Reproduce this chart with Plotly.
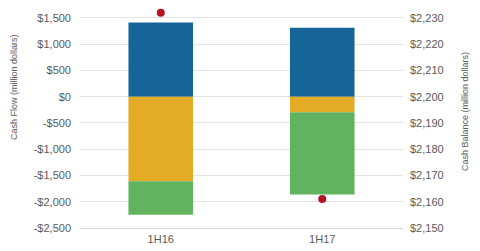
import plotly.graph_objects as go

categories = ["1H16", "1H17"]
operating_cf = [1410, 1310]
investing_cf = [-1610, -295]
financing_cf = [-640, -1565]
cash_balance = [2232, 2161]

left_ticks = [-2500, -2000, -1500, -1000, -500, 0, 500, 1000, 1500]
left_labels = ["-$2,500", "-$2,000", "-$1,500", "-$1,000", "-$500", "$0", "$500", "$1,000", "$1,500"]
right_ticks = [2150, 2160, 2170, 2180, 2190, 2200, 2210, 2220, 2230]
right_labels = ["$2,150", "$2,160", "$2,170", "$2,180", "$2,190", "$2,200", "$2,210", "$2,220", "$2,230"]

font = dict(family="Liberation Sans, Arial, sans-serif", size=11, color="#595959")

# extend both axes a bit above the top gridline so the high marker is visible
left_range = [-2500, 1650]
right_range = [2150, 2150 + 80 * (left_range[1] - left_range[0]) / 4000]

fig = go.Figure()
fig.add_trace(go.Bar(x=categories, y=operating_cf, marker_color="#166599", marker_line_width=0, name="Operating"))
fig.add_trace(go.Bar(x=categories, y=investing_cf, marker_color="#e3ac26", marker_line_width=0, name="Investing"))
fig.add_trace(go.Bar(x=categories, y=financing_cf, marker_color="#62b35f", marker_line_width=0, name="Financing"))
fig.add_trace(go.Scatter(x=categories, y=cash_balance, yaxis="y2", mode="markers",
                         marker=dict(color="#b5151f", size=8), cliponaxis=False, name="Cash balance"))

fig.update_layout(
    width=480, height=251,
    margin=dict(l=80, r=77, t=10, b=23),
    barmode="relative", bargap=0.6,
    showlegend=False,
    plot_bgcolor="white", paper_bgcolor="white",
    font=font,
    xaxis=dict(showgrid=False, showline=True, linecolor="#d9d9d9", linewidth=1, automargin=False,
               ticks="", ticklabelstandoff=1, tickfont=dict(size=11, color="#595959")),
    yaxis=dict(range=left_range, tickvals=left_ticks, ticktext=left_labels, automargin=False,
               showgrid=True, gridcolor="#e3e3e3", zeroline=False,
               ticks="", ticklabelstandoff=8),
    yaxis2=dict(range=right_range, tickvals=right_ticks, ticktext=right_labels, automargin=False,
                overlaying="y", side="right", showgrid=False, zeroline=False,
                ticks="", ticklabelstandoff=6),
    annotations=[
        dict(text="Cash Flow (million dollars)", textangle=-90, xref="paper", yref="paper",
             x=-80/323 + 14/323, y=1 - (87 - 10) / 218, xanchor="center", yanchor="middle",
             showarrow=False, font=dict(size=9, color="#595959")),
        dict(text="Cash Balance (million dollars)", textangle=-90, xref="paper", yref="paper",
             x=1 + (465 - 403) / 323, y=1 - (112 - 10) / 218, xanchor="center", yanchor="middle",
             showarrow=False, font=dict(size=9, color="#595959")),
    ],
)

fig.write_html("out.html")
